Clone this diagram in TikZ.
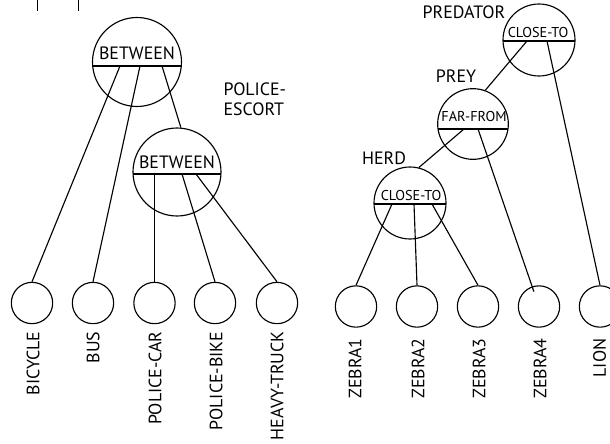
\documentclass[tikz,border=0pt]{standalone}
\usepackage{fontspec}
\setmainfont{PT Sans}
\usetikzlibrary{calc}

\tikzset{
	opnode/.style={circle, draw, inner sep=0pt, minimum size=#1},
	bar/.style={path picture={\draw ([yshift=-#1]path picture bounding box.west) -- ([yshift=-#1]path picture bounding box.east);}},
	leaf/.style={circle, draw, inner sep=0pt, minimum size=31pt},
	bigtext/.style={inner sep=0pt, font=\fontsize{13.4}{15}\selectfont},
	smalltext/.style={inner sep=0pt, font=\fontsize{10.7}{12}\selectfont},
	leaftext/.style={bigtext, rotate=90, anchor=east}
}

\begin{document}
\begin{tikzpicture}[x=0.75pt, y=-0.75pt, line width=0.85pt]
		%%%%% START %%%%%
		
		\useasboundingbox (0, 0) rectangle (610, 443);
		\clip (0, 0) rectangle (610, 443);
		
		\draw (37.5, 0) -- (37.5, 11);
		\draw (78.5, 0) -- (78.5, 11);
		
		% left tree
		\node[opnode=66.75pt, bar=3pt] (top) at (137, 62) {};
		\node[bigtext, anchor=base] (top-txt) at (137, 59.5) {BETWEEN};
		\node[opnode=66pt, bar=1.5pt] (mid) at (177, 172) {};
		\node[bigtext, anchor=base] (mid-txt) at (177, 168) {BETWEEN};
		\node[bigtext, anchor=base west, align=left] (escort) at (223, 115) {POLICE-\\ESCORT};
		
		\node[leaf] (bicycle) at (32, 303) {};
		\node[leaf] (bus) at (93, 303) {};
		\node[leaf] (police-car) at (154.5, 303) {};
		\node[leaf] (police-bike) at (215, 303) {};
		\node[leaf] (heavy-truck) at (277, 303) {};
		
		\node[leaftext] (bicycle-txt) at (33, 331) {BICYCLE};
		\node[leaftext] (bus-txt) at (93, 331) {BUS};
		\node[leaftext] (police-car-txt) at (155, 331) {POLICE-CAR};
		\node[leaftext] (police-bike-txt) at (216, 331) {POLICE-BIKE};
		\node[leaftext] (heavy-truck-txt) at (277, 331) {HEAVY-TRUCK};
		
		\path (top.center) ++(-17, 4) coordinate (top-a);
		\path (top.center) ++(3, 4) coordinate (top-b);
		\path (top.center) ++(25, 4) coordinate (top-c);
		\path (mid.center) ++(-22.5, 2) coordinate (mid-a);
		\path (mid.center) ++(5, 2) coordinate (mid-b);
		\path (mid.center) ++(19, 2) coordinate (mid-c);
		
		\draw (top-a) -- (bicycle.north);
		\draw (top-b) -- (bus.north);
		\draw (top-c) -- (mid.85);
		\draw (mid-a) -- (police-car.north);
		\draw (mid-b) -- (police-bike.north);
		\draw (mid-c) -- (heavy-truck.north);
		
		% right tree
		\node[opnode=54pt, bar=0.75pt] (predator) at (539, 40) {};
		\node[smalltext, anchor=base] (predator-txt) at (538, 37.5) {CLOSE-TO};
		\node[bigtext, anchor=base] (predator-lbl) at (464, 18.3) {PREDATOR};
		\node[opnode=53pt, bar=3.75pt] (prey) at (473, 124) {};
		\node[smalltext, anchor=base] (prey-txt) at (474, 121) {FAR-FROM};
		\node[bigtext, anchor=base] (prey-lbl) at (456, 82) {PREY};
		\node[opnode=54pt, bar=0.75pt] (herd) at (410, 203) {};
		\node[smalltext, anchor=base] (herd-txt) at (411, 200) {CLOSE-TO};
		\node[bigtext, anchor=base] (herd-lbl) at (384, 164) {HERD};
		
		\node[leaf] (zebra1) at (356, 306.5) {};
		\node[leaf] (zebra2) at (417, 306.5) {};
		\node[leaf] (zebra3) at (478, 306.5) {};
		\node[leaf] (zebra4) at (539, 306.5) {};
		\node[leaf] (lion) at (600, 306.5) {};
		
		\node[leaftext] (zebra1-txt) at (355, 338) {ZEBRA1};
		\node[leaftext] (zebra2-txt) at (418, 338) {ZEBRA2};
		\node[leaftext] (zebra3-txt) at (479, 338) {ZEBRA3};
		\node[leaftext] (zebra4-txt) at (540, 338) {ZEBRA4};
		\node[leaftext] (lion-txt) at (599.5, 338) {LION};
		
		\path (predator.center) ++(-12, 1) coordinate (predator-a);
		\path (predator.center) ++(8, 1) coordinate (predator-b);
		\path (prey.center) ++(-9, 5) coordinate (prey-a);
		\path (prey.center) ++(5, 5) coordinate (prey-b);
		\path (herd.center) ++(-18, 1) coordinate (herd-a);
		\path (herd.center) ++(4, 1) coordinate (herd-b);
		\path (herd.center) ++(22, 1) coordinate (herd-c);
		
		\draw (predator-a) -- (prey.70);
		\draw (predator-b) -- (lion.north);
		\draw (prey-a) -- (herd.76);
		\draw[shorten >=11.8pt] (prey-b) -- (zebra4.center);
		\draw (herd-a) -- (zebra1.north);
		\draw (herd-b) -- (zebra2.north);
		\draw (herd-c) -- (zebra3.north);
		
		%%%%% END %%%%%
	\end{tikzpicture}
\end{document}
